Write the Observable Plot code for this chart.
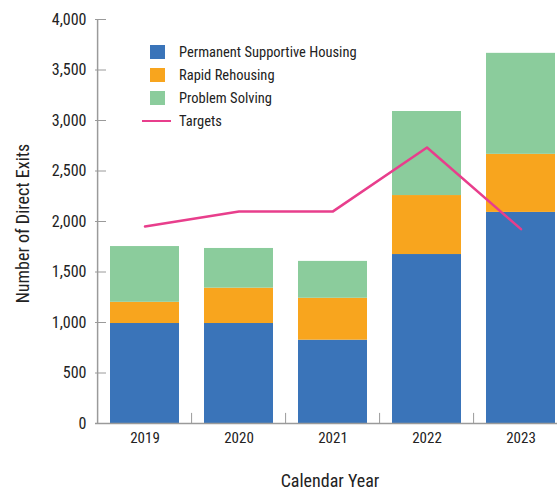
<!DOCTYPE html>
<html>
<head>
<meta charset="utf-8">
<script src="https://cdn.jsdelivr.net/npm/d3@7"></script>
<script src="https://cdn.jsdelivr.net/npm/@observablehq/plot@0.6"></script>
<style>
  body { margin: 0; background: #fff; }
  #wrap { position: relative; width: 557px; height: 491px; overflow: hidden;
    font-family: "Roboto Condensed", "Liberation Sans Narrow", "DejaVu Sans Condensed", sans-serif; color: #222; }
  #legend { position: absolute; left: 142px; top: 40.5px; font-size: 14.5px; color: #222; }
  .row { display: flex; align-items: center; height: 23px; white-space: nowrap; }
  .sw { width: 15px; height: 14px; margin-left: 8px; margin-right: 14px; }
  .ln { width: 29px; height: 2.5px; margin-right: 8px; }
</style>
</head>
<body>
<div id="wrap"><div id="legend"></div></div>
<script>
const years = ["2019", "2020", "2021", "2022", "2023"];
const seriesNames = ["Permanent Supportive Housing", "Rapid Rehousing", "Problem Solving"];
const seriesColors = ["#3a74b9", "#f8a51e", "#8bcc9c"];
const permanentSupportiveHousing = [990, 990, 825, 1673, 2090];
const rapidRehousing = [210, 350, 415, 584, 575];
const problemSolving = [552, 393, 365, 832, 1000];
const targets = [1950, 2100, 2100, 2733, 1924];
const targetName = "Targets";
const targetColor = "#e83e8c";
const yTicks = [0, 500, 1000, 1500, 2000, 2500, 3000, 3500, 4000];
const xTitle = "Calendar Year";
const yTitle = "Number of Direct Exits";

const seriesValues = [permanentSupportiveHousing, rapidRehousing, problemSolving];
const rows = [];
years.forEach((yr, i) => {
  seriesNames.forEach((s, j) => rows.push({year: yr, type: s, value: seriesValues[j][i]}));
});
const targetRows = years.map((yr, i) => ({year: yr, value: targets[i]}));

const font = '"Roboto Condensed", "Liberation Sans Narrow", "DejaVu Sans Condensed", sans-serif';
const axisGrey = "#9a9a9a";

const chart = Plot.plot({
  width: 557,
  height: 491,
  marginLeft: 95,
  marginRight: -12,
  marginTop: 19,
  marginBottom: 68,
  style: {fontFamily: font, fontSize: "16px", color: "#222", background: "transparent"},
  x: {type: "band", domain: years, paddingInner: 0.27, paddingOuter: 0.135, label: null},
  y: {domain: [0, 4000], label: null},
  color: {domain: seriesNames, range: seriesColors},
  marks: [
    Plot.barY(rows, {x: "year", y: "value", fill: "type"}),
    Plot.line(targetRows, {x: "year", y: "value", stroke: targetColor, strokeWidth: 2.5}),
    Plot.axisY({ticks: yTicks, tickSize: -11, tickPadding: 20, stroke: axisGrey, fill: "#222", label: null, fontSize: 16}),
    Plot.axisX({tickSize: 0, tickPadding: 9, stroke: axisGrey, fill: "#222", label: null, fontSize: 15}),
    Plot.ruleY([0], {stroke: axisGrey, strokeWidth: 1.5}),
    Plot.ruleX([years[0]], {dx: -47.4, stroke: axisGrey, strokeWidth: 1.5}),
    Plot.ruleX(years.slice(1), {x: d => d, dx: -47.4, y1: 0, y2: 100, stroke: axisGrey}),
    Plot.text([xTitle], {frameAnchor: "bottom", lineAnchor: "bottom", dy: 63, dx: -2.5, fontSize: 18, fill: "#222"}),
    Plot.text([yTitle], {frameAnchor: "left", textAnchor: "middle", lineAnchor: "middle", rotate: -90, dx: -72, dy: 2, fontSize: 18, fill: "#222"})
  ]
});
document.getElementById("wrap").prepend(chart);

const legend = document.getElementById("legend");
seriesNames.forEach((s, j) => {
  const r = document.createElement("div");
  r.className = "row";
  r.innerHTML = `<span class="sw" style="background:${seriesColors[j]}"></span><span>${s}</span>`;
  legend.appendChild(r);
});
const tr = document.createElement("div");
tr.className = "row";
tr.innerHTML = `<span class="ln" style="background:${targetColor}"></span><span>${targetName}</span>`;
legend.appendChild(tr);
</script>
</body>
</html>
